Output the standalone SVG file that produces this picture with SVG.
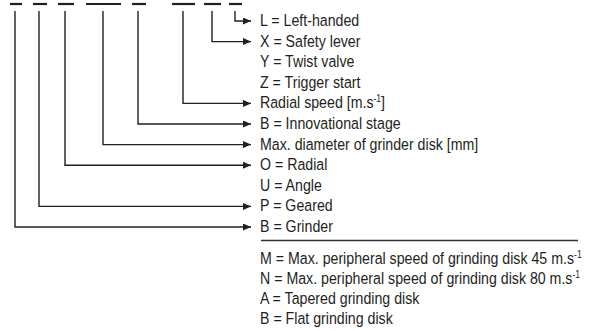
<svg xmlns="http://www.w3.org/2000/svg" width="590" height="331" viewBox="0 0 590 331">
<style>
.dash{stroke:#231f20;stroke-width:2.2;fill:none}
.conn{stroke:#231f20;stroke-width:1.4;fill:none}
.arr{marker-end:url(#ah)}
text{font-family:"Liberation Sans",Arial,sans-serif;font-size:16.5px;fill:#231f20}
.sup{font-size:10px}
.sep{stroke:#333;stroke-width:1.4}
</style>
<defs>
<marker id="ah" markerUnits="userSpaceOnUse" markerWidth="8" markerHeight="7" refX="8" refY="3.5" orient="auto">
<path d="M0,0 L8,3.5 L0,7 z" fill="#231f20"/>
</marker>
</defs>
<rect width="590" height="331" fill="#fff"/>
<g id="code-dashes">
<line class="dash" x1="10" y1="4" x2="22" y2="4"/>
<line class="dash" x1="33" y1="4" x2="47" y2="4"/>
<line class="dash" x1="58" y1="4" x2="74" y2="4"/>
<line class="dash" x1="86" y1="4" x2="121" y2="4"/>
<line class="dash" x1="132" y1="4" x2="146" y2="4"/>
<line class="dash" x1="172" y1="4" x2="195" y2="4"/>
<line class="dash" x1="204" y1="4" x2="221" y2="4"/>
<line class="dash" x1="229" y1="4" x2="242" y2="4"/>
</g>
<g id="connectors">
<polyline class="conn arr" points="235,11 235,21 251,21"/>
<polyline class="conn arr" points="212,11 212,41.6 251,41.6"/>
<polyline class="conn arr" points="183,11 183,103.4 251,103.4"/>
<polyline class="conn arr" points="138,11 138,124 251,124"/>
<polyline class="conn arr" points="103,11 103,144.6 251,144.6"/>
<polyline class="conn arr" points="65,11 65,165.2 251,165.2"/>
<polyline class="conn arr" points="39,11 39,206.4 251,206.4"/>
<polyline class="conn arr" points="15,11 15,227 251,227"/>
</g>
<g transform="translate(260 0) scale(0.86 1)">
<g id="n-left-handed"><text x="0" y="26">L = Left-handed</text></g>
<g id="n-safety-lever"><text x="0" y="46.6">X = Safety lever</text></g>
<g id="n-twist-valve"><text x="0" y="67.2">Y = Twist valve</text></g>
<g id="n-trigger-start"><text x="0" y="87.8">Z = Trigger start</text></g>
<g id="n-radial-speed"><text x="0" y="108.4">Radial speed [m.s<tspan class="sup" dy="-6">-1</tspan><tspan dy="6">]</tspan></text></g>
<g id="n-innovational"><text x="0" y="129">B = Innovational stage</text></g>
<g id="n-max-diameter"><text x="0" y="149.6">Max. diameter of grinder disk [mm]</text></g>
<g id="n-radial"><text x="0" y="170.2">O = Radial</text></g>
<g id="n-angle"><text x="0" y="190.8">U = Angle</text></g>
<g id="n-geared"><text x="0" y="211.4">P = Geared</text></g>
<g id="n-grinder"><text x="0" y="232">B = Grinder</text></g>
<g id="n-m"><text x="0" y="264">M = Max. peripheral speed of grinding disk 45 m.s<tspan class="sup" dy="-6">-1</tspan></text></g>
<g id="n-n"><text x="0" y="284">N = Max. peripheral speed of grinding disk 80 m.s<tspan class="sup" dy="-6">-1</tspan></text></g>
<g id="n-a"><text x="0" y="304">A = Tapered grinding disk</text></g>
<g id="n-b"><text x="0" y="324">B = Flat grinding disk</text></g>
</g>
<line class="sep" x1="261" y1="240.5" x2="578" y2="240.5"/>
</svg>
